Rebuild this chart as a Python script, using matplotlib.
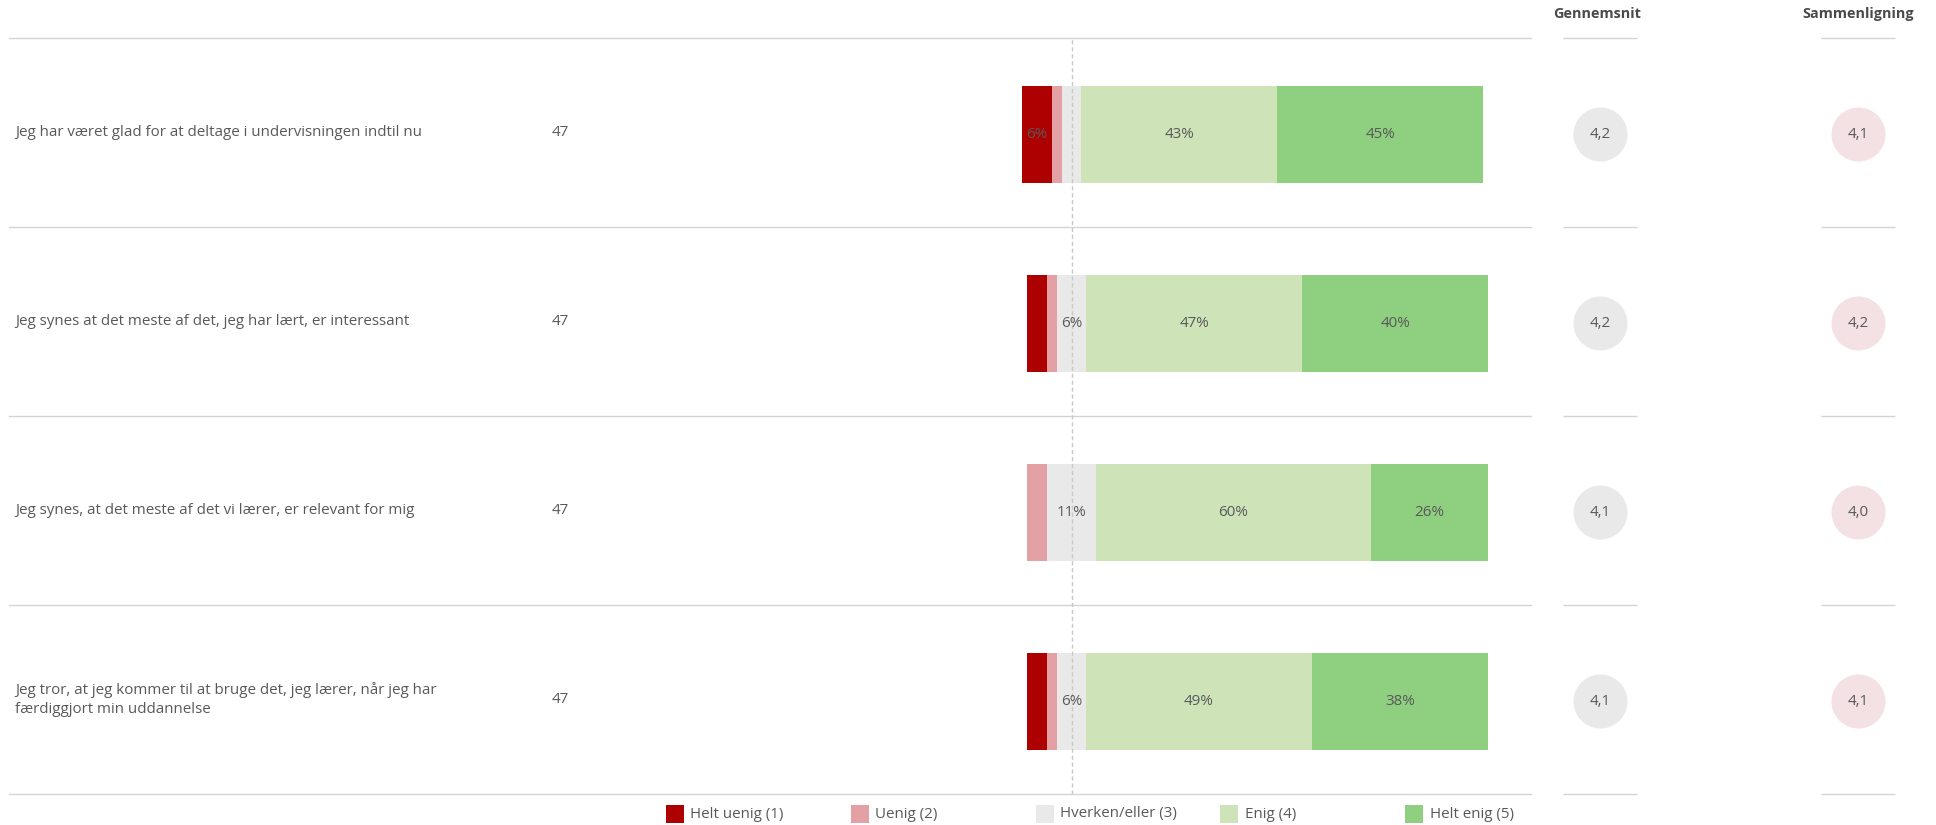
import numpy as np
import matplotlib
matplotlib.use('Agg')
import matplotlib.pyplot as plt

plt.rcParams['font.family'] = ['Open Sans', 'DejaVu Sans']

statements = [
    'Jeg har været glad for at deltage i undervisningen indtil nu',
    'Jeg synes at det meste af det, jeg har lært, er interessant',
    'Jeg synes, at det meste af det vi lærer, er relevant for mig',
    'Jeg tror, at jeg kommer til at bruge det, jeg lærer, når jeg har\nfærdiggjort min uddannelse',
]
n_resp = [47, 47, 47, 47]
categories = ['Helt uenig (1)', 'Uenig (2)', 'Hverken/eller (3)', 'Enig (4)', 'Helt enig (5)']
# antal svar pr. kategori
counts = [
    [3, 1, 2, 20, 21],
    [2, 1, 3, 22, 19],
    [0, 2, 5, 28, 12],
    [2, 1, 3, 23, 18],
]
gennemsnit = ['4,2', '4,2', '4,1', '4,1']
sammenligning = ['4,1', '4,2', '4,0', '4,1']

colors = ['#ad0000', '#e3a1a6', '#e9e9e9', '#cee3b8', '#8ecf80']
txt_col = '#595959'
line_col = '#d4d4d4'
fs = 10.9

W, H = 1936, 825
fig = plt.figure(figsize=(W / 100, H / 100), dpi=100)

def px_axes(x0, y0, x1, y1):
    # pixel box (top-left origin) -> axes
    return fig.add_axes([x0 / W, 1 - y1 / H, (x1 - x0) / W, (y1 - y0) / H])

# --- hovedakse med bjælker
ax = px_axes(9, 38, 1531, 794)
scale = 461 / 100  # px pr. procent
ax.set_xlim((9 - 1071.5) / scale, (1531 - 1071.5) / scale)
ax.set_ylim(len(statements) - 0.5, -0.5)
ax.axis('off')

for i, row in enumerate(counts):
    pct = np.array(row) / n_resp[i] * 100
    left = -(pct[0] + pct[1] + pct[2] / 2)
    for k in range(5):
        if pct[k] > 0:
            ax.barh(i + 0.01, pct[k], left=left, height=0.51, color=colors[k], linewidth=0)
            if round(pct[k]) >= 5:
                ax.text(left + pct[k] / 2, i + 0.01, f'{round(pct[k])}%', ha='center',
                        va='center', fontsize=fs, color=txt_col)
        left += pct[k]

tr = ax.get_yaxis_transform()
for i, s in enumerate(statements):
    ax.text(0.004, i, s, transform=tr, ha='left', va='center', fontsize=fs,
            color=txt_col, linespacing=1.3)
    ax.text(0.362, i, str(n_resp[i]), transform=tr, ha='center', va='center',
            fontsize=fs, color=txt_col)

for yl in np.arange(-0.5, len(statements), 1.0):
    ax.axhline(yl, color=line_col, lw=1, clip_on=False)
ax.axvline(0, color='#c8c8c8', lw=1, ls=(0, (3, 2)))

# --- gennemsnit / sammenligning
ax2 = px_axes(1536, 38, 1936, 794)
ax2.set_xlim(-64 / 258, 336 / 258)
ax2.set_ylim(len(statements) - 0.5, -0.5)
ax2.axis('off')
half = 37 / 258
for c in [0, 1]:
    ax2.hlines(np.arange(-0.5, len(statements), 1.0), c - half, c + half, color=line_col,
               lw=1, clip_on=False)
ys = np.arange(len(statements)) + 0.01
ax2.scatter(np.zeros(len(ys)), ys, s=1512, color='#e9e9e9', linewidths=0)
ax2.scatter(np.ones(len(ys)), ys, s=1512, color='#f4e1e3', linewidths=0)
for i in range(len(ys)):
    ax2.text(0, ys[i], gennemsnit[i], ha='center', va='center', fontsize=fs, color=txt_col)
    ax2.text(1, ys[i], sammenligning[i], ha='center', va='center', fontsize=fs, color=txt_col)

fig.text(1597 / W, 1 - 14 / H, 'Gennemsnit', ha='center', va='center', fontsize=10.4,
         fontweight='bold', color='#4a4a4a')
fig.text(1858 / W, 1 - 14 / H, 'Sammenligning', ha='center', va='center', fontsize=10.4,
         fontweight='bold', color='#4a4a4a')

# --- forklaring
axl = px_axes(600, 800, 1600, 825)
axl.set_xlim((600 - 674.5) / 185, (1600 - 674.5) / 185)
axl.set_ylim(0, 1)
axl.axis('off')
yc = (825 - 814) / 25
for k, cat in enumerate(categories):
    axl.scatter(k, yc, marker='s', s=187, color=colors[k], linewidths=0)
    axl.text(k + 0.084, yc, cat, ha='left', va='center', fontsize=fs, color=txt_col)

fig.savefig('out.png', dpi=100)
